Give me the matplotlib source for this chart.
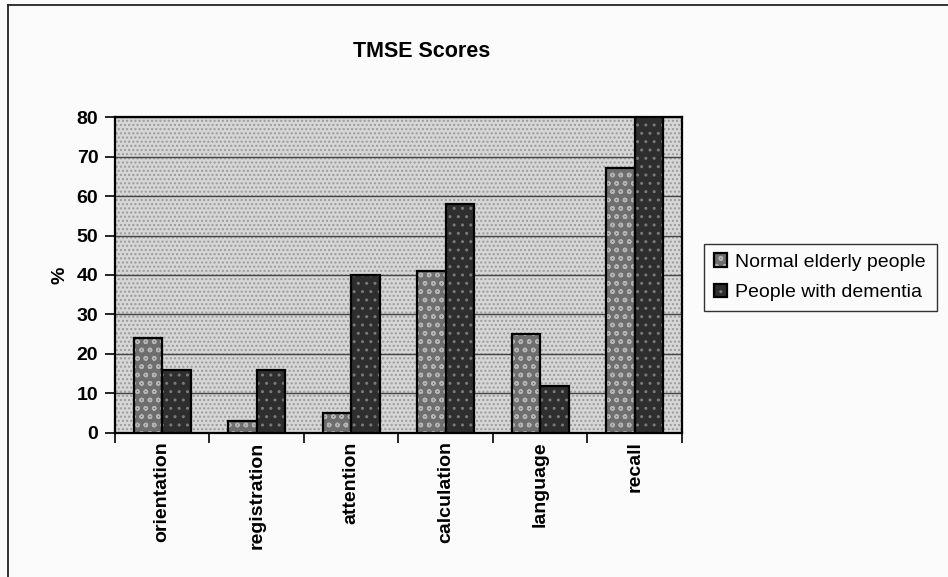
import matplotlib
matplotlib.use("Agg")
import matplotlib.pyplot as plt
from matplotlib.lines import Line2D
import numpy as np

plt.rcParams["font.family"] = ["Liberation Sans", "DejaVu Sans"]
plt.rcParams["hatch.linewidth"] = 1.0

categories = ["orientation", "registration", "attention", "calculation", "language", "recall"]
normal_elderly = [24, 3, 5, 41, 25, 67]
dementia = [16, 16, 40, 58, 12, 80]
series_names = ["Normal elderly people", "People with dementia"]
y_ticks = [0, 10, 20, 30, 40, 50, 60, 70, 80]

fig = plt.figure(figsize=(9.48, 5.77), dpi=100)
fig.patch.set_facecolor("#fbfbfb")

ax = fig.add_axes([0.1213, 0.2496, 0.598, 0.5476])
ax.set_facecolor("#d6d6d6")
# stippled plot area
ax.patch.set_hatch("....")
ax.patch.set_edgecolor("#9a9a9a")

x = np.arange(len(categories))
w = 0.3
b1 = ax.bar(x - w / 2, normal_elderly, w, color="#6e6e6e", edgecolor="black",
            linewidth=1.6, hatch="oo", zorder=3)
b2 = ax.bar(x + w / 2, dementia, w, color="#2e2e2e", edgecolor="black",
            linewidth=1.6, hatch="..", zorder=3)
for bars, hc in ((b1, "#b4b4b4"), (b2, "#7a7a7a")):
    for r in bars:
        r._hatch_color = matplotlib.colors.to_rgba(hc)

ax.set_xlim(-0.5, len(categories) - 0.5)
ax.set_ylim(0, 80)
ax.set_yticks(y_ticks)
ax.set_yticklabels([str(v) for v in y_ticks], fontsize=14, fontweight="bold")
ax.yaxis.grid(True, color="#444444", linewidth=1.0, zorder=1)
ax.set_axisbelow(True)

# category labels between boundary ticks
ax.set_xticks(np.arange(len(categories) + 1) - 0.5)
ax.set_xticklabels([])
ax.set_xticks(x, minor=True)
ax.set_xticklabels(categories, minor=True, rotation=90, fontsize=14,
                   fontweight="bold", va="top")
ax.tick_params(axis="x", which="minor", length=0, pad=6)
ax.tick_params(axis="x", which="major", length=7, width=1.2, direction="out")
ax.tick_params(axis="y", length=7, width=1.2, direction="out", pad=5)

for s in ax.spines.values():
    s.set_linewidth(1.6)
    s.set_color("black")

ax.set_ylabel("%", fontsize=14, fontweight="bold", labelpad=6)

fig.text(0.445, 0.91, "TMSE Scores", ha="center", va="center",
         fontsize=15.5, fontweight="bold")

leg = fig.legend([b1[0], b2[0]], series_names, loc="lower left",
                 bbox_to_anchor=(0.7426, 0.461, 0.2458, 0.116), mode="expand",
                 fontsize=14, frameon=True, fancybox=False, handlelength=0.7,
                 handleheight=0.7, handletextpad=0.4, borderpad=0.5,
                 labelspacing=0.65, borderaxespad=0)
leg.get_frame().set_edgecolor("black")
leg.get_frame().set_linewidth(1.0)
leg.get_frame().set_facecolor("#fbfbfb")

# page frame lines
fig.add_artist(Line2D([0.0085, 0.0085], [0.0, 0.991], color="#222222", lw=1.3,
                      transform=fig.transFigure))
fig.add_artist(Line2D([0.0085, 1.0], [0.991, 0.991], color="#222222", lw=1.3,
                      transform=fig.transFigure))

fig.savefig("out.png", dpi=100, facecolor=fig.get_facecolor())
